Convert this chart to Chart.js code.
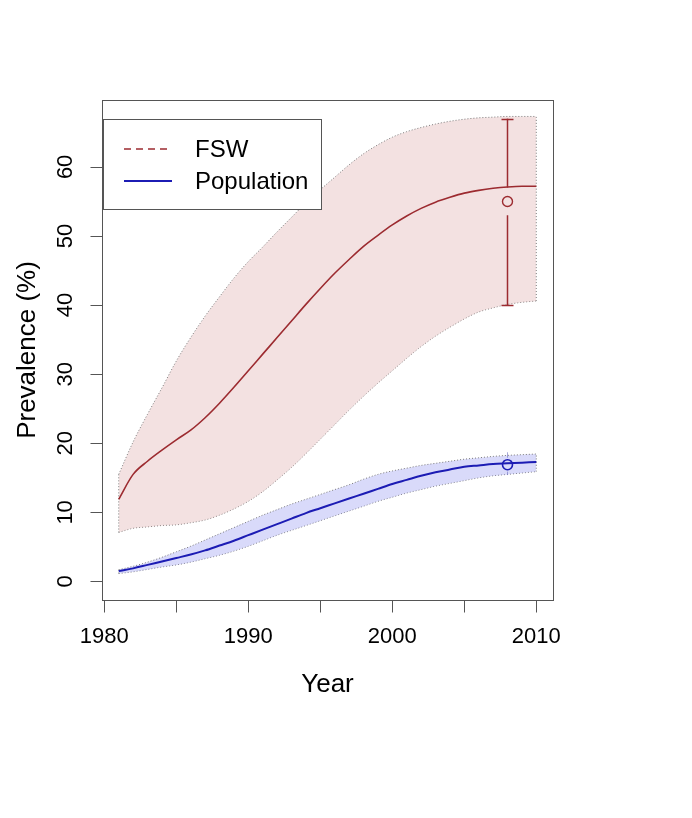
<!DOCTYPE html>
<html>
<head>
<meta charset="utf-8">
<script src="https://cdn.jsdelivr.net/npm/chart.js@4.4.0/dist/chart.umd.min.js"></script>
<style>
  html, body { margin: 0; padding: 0; background: #fff; }
  canvas { display: block; }
</style>
</head>
<body>
<canvas id="chart" width="692" height="818" style="width:692px;height:818px"></canvas>
<script>
/* ── data ───────────────────────────────────────────────── */
const years = [1981, 1982, 1983, 1984, 1985, 1986, 1987, 1988, 1989, 1990,
               1991, 1992, 1993, 1994, 1995, 1996, 1997, 1998, 1999, 2000,
               2001, 2002, 2003, 2004, 2005, 2006, 2007, 2008, 2009, 2010];

const fswMid = [11.9, 15.5, 17.4, 19.0, 20.5, 21.9, 23.7, 25.8, 28.1, 30.5,
                32.9, 35.3, 37.7, 40.1, 42.4, 44.6, 46.6, 48.5, 50.1, 51.6,
                52.9, 54.0, 54.9, 55.6, 56.2, 56.6, 56.9, 57.1, 57.2, 57.2];
const fswHi  = [15.5, 20.2, 24.2, 28.0, 31.9, 35.3, 38.4, 41.2, 43.9, 46.3,
                48.4, 50.6, 52.7, 54.8, 56.7, 58.5, 60.3, 61.9, 63.2, 64.3,
                65.1, 65.7, 66.2, 66.6, 66.9, 67.1, 67.2, 67.3, 67.3, 67.3];
const fswLo  = [7.1, 7.7, 7.9, 8.1, 8.2, 8.5, 8.9, 9.6, 10.5, 11.6,
                13.0, 14.7, 16.5, 18.5, 20.6, 22.7, 24.8, 26.8, 28.7, 30.5,
                32.3, 34.0, 35.5, 36.8, 38.0, 39.0, 39.6, 40.1, 40.4, 40.6];

const popMid = [1.5, 1.9, 2.4, 2.9, 3.4, 3.9, 4.5, 5.2, 5.9, 6.7,
                7.5, 8.3, 9.1, 9.9, 10.6, 11.3, 12.0, 12.7, 13.4, 14.1,
                14.7, 15.3, 15.8, 16.2, 16.6, 16.8, 17.0, 17.1, 17.2, 17.3];
const popHi  = [1.7, 2.2, 2.8, 3.5, 4.3, 5.1, 6.0, 6.9, 7.8, 8.7,
                9.6, 10.4, 11.2, 11.9, 12.6, 13.3, 14.0, 14.8, 15.5, 16.0,
                16.4, 16.8, 17.1, 17.4, 17.7, 17.9, 18.1, 18.25, 18.35, 18.45];
const popLo  = [1.15, 1.4, 1.75, 2.1, 2.4, 2.8, 3.3, 3.8, 4.4, 5.1,
                5.9, 6.7, 7.4, 8.1, 8.8, 9.5, 10.2, 10.9, 11.6, 12.2,
                12.8, 13.3, 13.8, 14.2, 14.6, 15.0, 15.3, 15.5, 15.7, 15.9];

/* survey observations with intervals */
const obsYear   = [2008];
const fswObs    = [55];
const fswObsLo  = [40];
const fswObsHi  = [67];
const popObs    = [16.9];
const popObsLo  = [15.4];
const popObsHi  = [18.7];

/* axes */
const xTicks  = [1980, 1985, 1990, 1995, 2000, 2005, 2010];
const xLabels = ['1980', '', '1990', '', '2000', '', '2010'];
const yTicks  = [0, 10, 20, 30, 40, 50, 60];
const legendLabels = ['FSW', 'Population'];

/* ── colours ────────────────────────────────────────────── */
const RED      = '#9c2b30';
const RED_FILL = 'rgba(225,180,180,0.4)';
const BLUE     = '#1c1cb4';
const BLUE_FILL= 'rgba(170,172,245,0.45)';
const EDGE     = '#7a7a7a';
const FONT     = "'Liberation Sans', Arial, Helvetica, sans-serif";

const pts = (xs, ys) => xs.map((x, i) => ({ x, y: ys[i] }));
const edge = (i, lo, hi) => [{ x: years[i], y: lo[i] }, { x: years[i], y: hi[i] }];
const last = years.length - 1;

function band(data, fill, color, order) {
  return {
    data, fill, backgroundColor: color, borderColor: EDGE,
    borderWidth: 1, borderDash: [1, 2], pointRadius: 0,
    cubicInterpolationMode: 'monotone', order,
  };
}

/* ── custom R-like axes, legend and error bars ──────────── */
const rDecor = {
  id: 'rDecor',
  afterDatasetsDraw(chart) {
    const { ctx, scales: { x, y } } = chart;
    ctx.save();
    // error bars
    const bars = [
      { v: fswObs, lo: fswObsLo, hi: fswObsHi, c: RED, gap: 2, w: 1.5, cap: 6 },
      { v: popObs, lo: popObsLo, hi: popObsHi, c: 'rgba(110,110,190,0.6)', gap: 1.0, w: 1, cap: 0 },
    ];
    bars.forEach(b => {
      obsYear.forEach((yr, i) => {
        const px = Math.round(x.getPixelForValue(yr)) + 0.5;
        ctx.strokeStyle = b.c; ctx.lineWidth = b.w;
        ctx.beginPath();
        if (b.hi[i] > b.v[i] + b.gap) {
          ctx.moveTo(px, y.getPixelForValue(b.hi[i]));
          ctx.lineTo(px, y.getPixelForValue(b.v[i] + b.gap));
        }
        if (b.lo[i] < b.v[i] - b.gap) {
          ctx.moveTo(px, y.getPixelForValue(b.v[i] - b.gap));
          ctx.lineTo(px, y.getPixelForValue(b.lo[i]));
        }
        if (b.cap) {
          [b.hi[i], b.lo[i]].forEach(val => {
            const py = Math.round(y.getPixelForValue(val)) + 0.5;
            ctx.moveTo(px - b.cap, py); ctx.lineTo(px + b.cap, py);
          });
        }
        ctx.stroke();
      });
    });

    // legend
    const lx = 103.5, ly = 119.5, lw = 218, lh = 90;
    ctx.fillStyle = '#fff';
    ctx.fillRect(lx, ly, lw, lh);
    ctx.strokeStyle = '#555'; ctx.lineWidth = 1; ctx.setLineDash([]);
    ctx.strokeRect(lx, ly, lw, lh);
    const rows = [
      { c: RED, dash: [7, 5], w: 1.6, yy: 149 },
      { c: BLUE, dash: [], w: 2, yy: 181 },
    ];
    ctx.font = '24px ' + FONT;
    ctx.textBaseline = 'middle'; ctx.textAlign = 'left';
    rows.forEach((r, i) => {
      ctx.strokeStyle = r.c; ctx.lineWidth = r.w; ctx.setLineDash(r.dash);
      ctx.beginPath(); ctx.moveTo(124, r.yy); ctx.lineTo(172, r.yy); ctx.stroke();
      ctx.setLineDash([]);
      ctx.fillStyle = '#000';
      ctx.fillText(legendLabels[i], 195, r.yy + 1);
    });
    ctx.restore();
  },
  afterDraw(chart) {
    const { ctx, chartArea: a, scales: { x, y } } = chart;
    ctx.save();
    ctx.strokeStyle = '#555'; ctx.lineWidth = 1;
    // box
    ctx.strokeRect(Math.round(a.left) + 0.5, Math.round(a.top) + 0.5,
                   Math.round(a.right - a.left), Math.round(a.bottom - a.top));
    // x axis
    const by = Math.round(a.bottom) + 0.5;
    ctx.beginPath();
    ctx.moveTo(x.getPixelForValue(xTicks[0]), by);
    ctx.lineTo(x.getPixelForValue(xTicks[xTicks.length - 1]), by);
    xTicks.forEach(t => {
      const px = Math.round(x.getPixelForValue(t)) + 0.5;
      ctx.moveTo(px, by); ctx.lineTo(px, by + 12);
    });
    // y axis
    const bx = Math.round(a.left) + 0.5;
    ctx.moveTo(bx, y.getPixelForValue(yTicks[0]));
    ctx.lineTo(bx, y.getPixelForValue(yTicks[yTicks.length - 1]));
    yTicks.forEach(t => {
      const py = Math.round(y.getPixelForValue(t)) + 0.5;
      ctx.moveTo(bx, py); ctx.lineTo(bx - 12, py);
    });
    ctx.stroke();

    ctx.fillStyle = '#000';
    ctx.font = '22px ' + FONT;
    ctx.textAlign = 'center'; ctx.textBaseline = 'middle';
    xTicks.forEach((t, i) => {
      if (xLabels[i]) ctx.fillText(xLabels[i], x.getPixelForValue(t), 637);
    });
    yTicks.forEach(t => {
      ctx.save();
      ctx.translate(66, y.getPixelForValue(t));
      ctx.rotate(-Math.PI / 2);
      ctx.fillText(String(t), 0, 0);
      ctx.restore();
    });
    // titles
    ctx.font = '26px ' + FONT;
    ctx.fillText('Year', (a.left + a.right) / 2, 685);
    ctx.save();
    ctx.translate(28, (a.top + a.bottom) / 2);
    ctx.rotate(-Math.PI / 2);
    ctx.fillText('Prevalence (%)', 0, 0);
    ctx.restore();
    ctx.restore();
  },
};

new Chart(document.getElementById('chart'), {
  type: 'line',
  data: {
    datasets: [
      band(pts(years, fswHi), '+1', RED_FILL, 10),           // 0
      band(pts(years, fswLo), false, 'transparent', 10),      // 1
      band(pts(years, popHi), '+1', BLUE_FILL, 8),            // 2
      band(pts(years, popLo), false, 'transparent', 8),       // 3
      band(edge(0, fswLo, fswHi), false, 'transparent', 7),
      band(edge(last, fswLo, fswHi), false, 'transparent', 7),
      band(edge(0, popLo, popHi), false, 'transparent', 7),
      band(edge(last, popLo, popHi), false, 'transparent', 7),
      { data: pts(years, fswMid), borderColor: RED, borderWidth: 1.6,
        pointRadius: 0, fill: false, cubicInterpolationMode: 'monotone', order: 2 },
      { data: pts(years, popMid), borderColor: BLUE, borderWidth: 2,
        pointRadius: 0, fill: false, cubicInterpolationMode: 'monotone', order: 2 },
      { data: pts(obsYear, fswObs), showLine: false, pointRadius: 5,
        pointBorderWidth: 1.4, pointBorderColor: RED,
        pointBackgroundColor: 'rgba(0,0,0,0)', order: 1 },
      { data: pts(obsYear, popObs), showLine: false, pointRadius: 5,
        pointBorderWidth: 1.6, pointBorderColor: BLUE,
        pointBackgroundColor: 'rgba(0,0,0,0)', order: 1 },
    ],
  },
  options: {
    responsive: false,
    devicePixelRatio: 1,
    animation: false,
    layout: { padding: { left: 102, right: 139, top: 100, bottom: 218 } },
    plugins: { legend: { display: false }, tooltip: { enabled: false } },
    scales: {
      x: { type: 'linear', min: 1979.84, max: 2011.16, display: false },
      y: { type: 'linear', min: -2.68, max: 69.68, display: false },
    },
  },
  plugins: [rDecor],
});
</script>
</body>
</html>
